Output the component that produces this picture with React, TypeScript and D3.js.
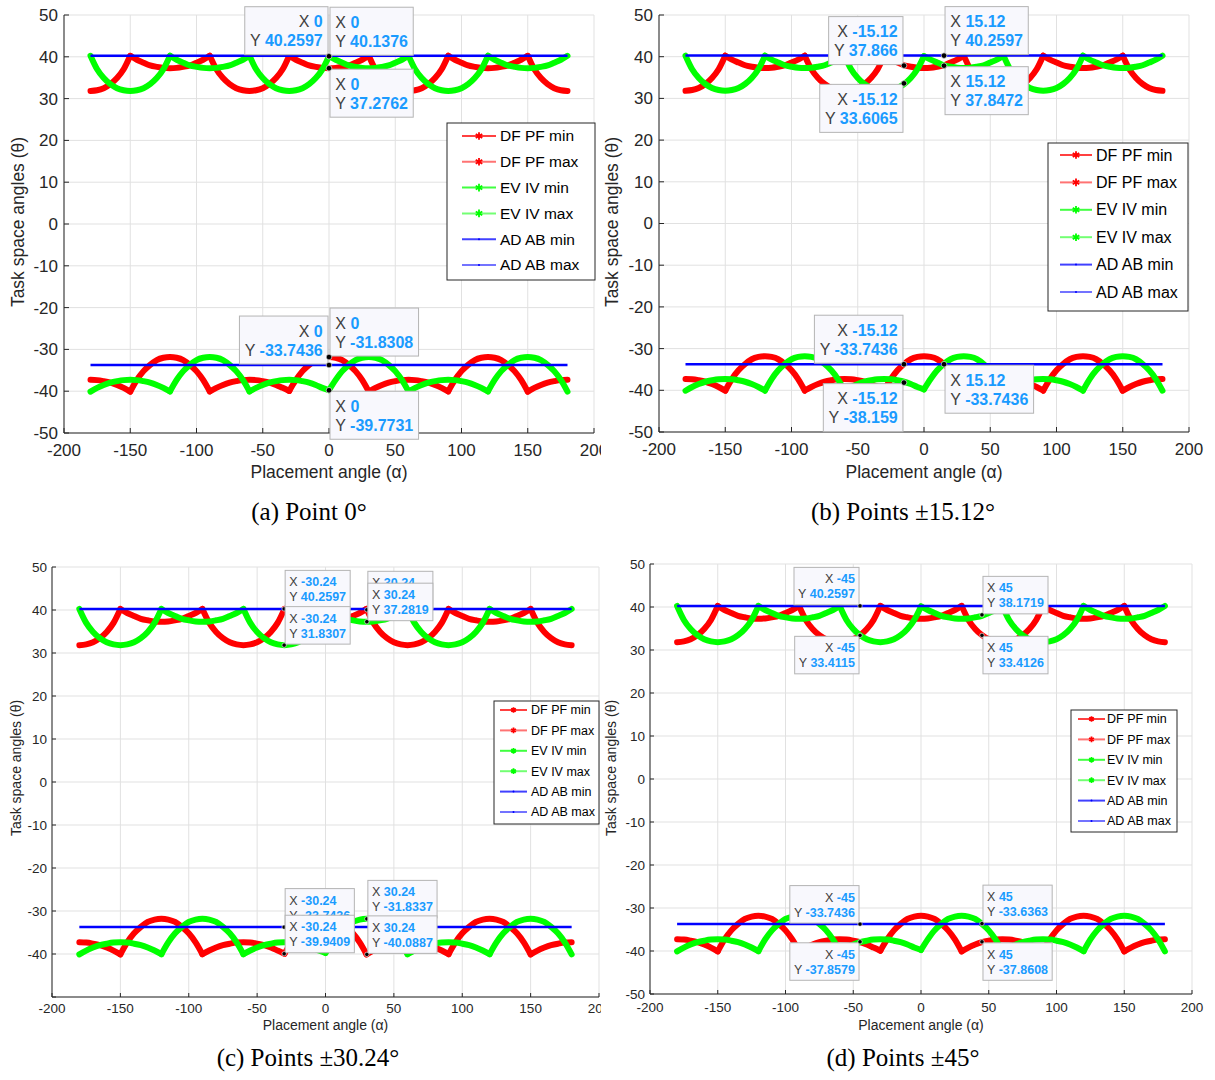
import React, { useEffect, useRef } from "react";
import * as d3 from "d3";

// ---------------- DATA ----------------
const angles = [-180, -175, -170, -165, -160, -155, -150, -145, -140, -135, -130, -125, -120, -115, -110, -105, -100, -95, -90, -85, -80, -75, -70, -65, -60, -55, -50, -45, -40, -35, -30, -25, -20, -15, -10, -5, 0, 5, 10, 15, 20, 25, 30, 35, 40, 45, 50, 55, 60, 65, 70, 75, 80, 85, 90, 95, 100, 105, 110, 115, 120, 125, 130, 135, 140, 145, 150, 155, 160, 165, 170, 175, 180];

const dfpfMax = [
  31.83, 32.0, 32.5, 33.45, 34.9, 37.0, 40.24,
  39.3, 38.6, 37.95, 37.6, 37.35, 37.28, 37.35, 37.6, 37.95, 38.6, 39.3, 40.25,
  37.0, 34.9, 33.45, 32.5, 32.0, 31.83, 32.0, 32.5, 33.45, 34.9, 37.0, 40.26,
  39.3, 38.6, 37.95, 37.6, 37.35, 37.28, 37.35, 37.6, 37.95, 38.6, 39.3, 40.26,
  37.0, 34.9, 33.45, 32.5, 32.0, 31.83, 32.0, 32.5, 33.45, 34.9, 37.0, 40.25,
  39.3, 38.6, 37.95, 37.6, 37.35, 37.28, 37.35, 37.6, 37.95, 38.6, 39.3, 40.24,
  37.0, 34.9, 33.45, 32.5, 32.0, 31.83,
];
const evivMax = [
  40.24,
  37.0, 34.9, 33.45, 32.5, 32.0, 31.83, 32.0, 32.5, 33.45, 34.9, 37.0, 40.25,
  39.3, 38.6, 37.95, 37.6, 37.35, 37.28, 37.35, 37.6, 37.95, 38.6, 39.3, 40.25,
  37.0, 34.9, 33.45, 32.5, 32.0, 31.83, 32.0, 32.5, 33.45, 34.9, 37.0, 40.14,
  39.3, 38.6, 37.95, 37.6, 37.35, 37.28, 37.35, 37.6, 37.95, 38.6, 39.3, 40.25,
  37.0, 34.9, 33.45, 32.5, 32.0, 31.83, 32.0, 32.5, 33.45, 34.9, 37.0, 40.25,
  39.3, 38.6, 37.95, 37.6, 37.35, 37.28, 37.35, 37.6, 37.95, 38.6, 39.3, 40.24,
];
const dfpfMin = [
  -37.28, -37.35, -37.6, -37.95, -38.5, -39.2, -40.1,
  -37.3, -35.2, -33.7, -32.55, -32.0, -31.83, -32.0, -32.55, -33.7, -35.2, -37.3, -40.05,
  -39.2, -38.5, -37.95, -37.6, -37.35, -37.28, -37.35, -37.6, -37.95, -38.5, -39.2, -39.94,
  -37.3, -35.2, -33.7, -32.55, -32.0, -31.83, -32.0, -32.55, -33.7, -35.2, -37.3, -40.09,
  -39.2, -38.5, -37.95, -37.6, -37.35, -37.28, -37.35, -37.6, -37.95, -38.5, -39.2, -40.05,
  -37.3, -35.2, -33.7, -32.55, -32.0, -31.83, -32.0, -32.55, -33.7, -35.2, -37.3, -40.1,
  -39.2, -38.5, -37.95, -37.6, -37.35, -37.28,
];
const evivMin = [
  -40.1,
  -39.2, -38.5, -37.95, -37.6, -37.35, -37.28, -37.35, -37.6, -37.95, -38.5, -39.2, -40.05,
  -37.3, -35.2, -33.7, -32.55, -32.0, -31.83, -32.0, -32.55, -33.7, -35.2, -37.3, -40.05,
  -39.2, -38.5, -37.95, -37.6, -37.35, -37.28, -37.35, -37.6, -37.95, -38.5, -39.2, -39.77,
  -37.3, -35.2, -33.7, -32.55, -32.0, -31.83, -32.0, -32.55, -33.7, -35.2, -37.3, -40.05,
  -39.2, -38.5, -37.95, -37.6, -37.35, -37.28, -37.35, -37.6, -37.95, -38.5, -39.2, -40.05,
  -37.3, -35.2, -33.7, -32.55, -32.0, -31.83, -32.0, -32.55, -33.7, -35.2, -37.3, -40.1,
];
const dfpfCusps = [-150, -90, -30, 30, 90, 150];
const evivCusps = [-180, -120, -60, 0, 60, 120, 180];
const adabX = [-180, 180];
const adabMaxValue = 40.2597;
const adabMinValue = -33.7436;

const xTicks = [-200, -150, -100, -50, 0, 50, 100, 150, 200];
const yTicks = [-50, -40, -30, -20, -10, 0, 10, 20, 30, 40, 50];

const legendLabels = ["DF PF min", "DF PF max", "EV IV min", "EV IV max", "AD AB min", "AD AB max"];
const captions = ["(a) Point 0°", "(b) Points ±15.12°", "(c) Points ±30.24°", "(d) Points ±45°"];
const xAxisTitle = "Placement angle (α)";
const yAxisTitle = "Task space angles (θ)";

const tipsAX = [0, 0, 0, 0, 0, 0];
const tipsAY = [40.2597, 40.1376, 37.2762, -33.7436, -31.8308, -39.7731];
const tipsBX = [-15.12, -15.12, 15.12, 15.12, -15.12, -15.12, 15.12];
const tipsBY = [37.866, 33.6065, 40.2597, 37.8472, -33.7436, -38.159, -33.7436];
const tipsCX = [-30.24, -30.24, 30.24, 30.24, -30.24, -30.24, 30.24, 30.24];
const tipsCY = [40.2597, 31.8307, 40.0463, 37.2819, -33.7436, -39.9409, -31.8337, -40.0887];
const tipsDX = [-45, -45, 45, 45, -45, -45, 45, 45];
const tipsDY = [40.2597, 33.4115, 38.1719, 33.4126, -33.7436, -37.8579, -33.6363, -37.8608];

// ---------------- LAYOUT ----------------
const SANS = "'Liberation Sans', Arial, Helvetica, sans-serif";
const SERIF = "'Liberation Serif', 'Times New Roman', serif";

const panels = [
  {
    x0: 64, x1: 594, y0: 433, y1: 15, clip: [0, 0, 601, 540],
    tickFont: 17, tickLen: 5, xTickBase: 23, yTickGap: 6, hideYMin: false,
    titleFont: 17.5, yTitleX: 18, yTitleY: 222, xTitleY: 478,
    capX: 309, capY: 520,
    legend: { x: 447, y: 123, w: 148, h: 157, row0: 136, dy: 25.8, l0: 462, l1: 496, tx: 500, font: 15.5, ms: 40 },
    tipFont: 16, dotR: 2.8, tipsX: tipsAX, tipsY: tipsAY,
    place: ["tl", "tr", "br", "tl", "tr", "br"],
  },
  {
    x0: 659, x1: 1189, y0: 432, y1: 15, clip: [601, 0, 614, 540],
    tickFont: 17, tickLen: 5, xTickBase: 23, yTickGap: 6, hideYMin: false,
    titleFont: 17.5, yTitleX: 612, yTitleY: 222, xTitleY: 478,
    capX: 903, capY: 520,
    legend: { x: 1048, y: 143, w: 140, h: 168, row0: 155, dy: 27.4, l0: 1060, l1: 1092, tx: 1096, font: 16, ms: 40 },
    tipFont: 16, dotR: 2.8, tipsX: tipsBX, tipsY: tipsBY,
    place: ["tl", "bl", "tr", "br", "tl", "bl", "br"],
  },
  {
    x0: 52, x1: 599, y0: 997, y1: 567, clip: [0, 540, 601, 540],
    tickFont: 13.5, tickLen: 4, xTickBase: 16, yTickGap: 5, hideYMin: true,
    titleFont: 14, yTitleX: 16, yTitleY: 768, xTitleY: 1030,
    capX: 308, capY: 1066,
    legend: { x: 494, y: 701, w: 105, h: 123, row0: 710, dy: 20.4, l0: 500, l1: 527, tx: 531, font: 12.5, ms: 22 },
    tipFont: 12.5, dotR: 2.2, tipsX: tipsCX, tipsY: tipsCY,
    place: ["tr", "tr", "tr", "tr", "tr", "tr", "tr", "tr"],
  },
  {
    x0: 650, x1: 1192, y0: 994, y1: 564, clip: [601, 540, 614, 540],
    tickFont: 13.5, tickLen: 4, xTickBase: 17.5, yTickGap: 5, hideYMin: false,
    titleFont: 14, yTitleX: 611, yTitleY: 768, xTitleY: 1030,
    capX: 903, capY: 1066,
    legend: { x: 1071, y: 710, w: 106, h: 122, row0: 719, dy: 20.4, l0: 1078, l1: 1105, tx: 1107, font: 12.5, ms: 22 },
    tipFont: 12.5, dotR: 2.2, tipsX: tipsDX, tipsY: tipsDY,
    place: ["tl", "bl", "tr", "br", "tl", "bl", "tr", "br"],
  },
];

const RED = "#ff0000";
const GREEN = "#00ff00";
const BLUE = "#0000ff";
const AXIS = "#262626";

function splitSegments(xs: number[], ys: number[], cusps: number[]) {
  const idx = [0];
  xs.forEach((v, i) => { if (cusps.includes(v) && i !== 0 && i !== xs.length - 1) idx.push(i); });
  idx.push(xs.length - 1);
  const segs: [number, number][][] = [];
  for (let k = 0; k < idx.length - 1; k++) {
    const s: [number, number][] = [];
    for (let i = idx[k]; i <= idx[k + 1]; i++) s.push([xs[i], ys[i]]);
    segs.push(s);
  }
  return segs;
}

export default function App() {
  const ref = useRef<SVGSVGElement>(null);

  useEffect(() => {
    const svg = d3.select(ref.current);
    svg.selectAll("*").remove();
    const defs = svg.append("defs");

    panels.forEach((p, pi) => {
      const clipId = "clip" + pi;
      defs.append("clipPath").attr("id", clipId).append("rect")
        .attr("x", p.clip[0]).attr("y", p.clip[1]).attr("width", p.clip[2]).attr("height", p.clip[3]);
      const g = svg.append("g").attr("clip-path", `url(#${clipId})`);
      const x = d3.scaleLinear().domain([-200, 200]).range([p.x0, p.x1]);
      const y = d3.scaleLinear().domain([-50, 50]).range([p.y0, p.y1]);

      // grid
      const grid = g.append("g").attr("stroke", "#e1e1e1").attr("stroke-width", 1);
      xTicks.forEach((t) => {
        grid.append("line").attr("x1", x(t)).attr("x2", x(t)).attr("y1", y(-50)).attr("y2", y(50));
      });
      yTicks.forEach((t) => {
        grid.append("line").attr("x1", x(-200)).attr("x2", x(200)).attr("y1", y(t)).attr("y2", y(t));
      });

      // curves
      const line = d3.line<[number, number]>().x((d) => x(d[0])).y((d) => y(d[1])).curve(d3.curveMonotoneX);
      const drawSeries = (ys: number[], cusps: number[], color: string) => {
        splitSegments(angles, ys, cusps).forEach((seg) => {
          g.append("path").attr("d", line(seg)).attr("fill", "none").attr("stroke", color)
            .attr("stroke-width", 6).attr("stroke-linejoin", "round").attr("stroke-linecap", "round");
        });
      };
      drawSeries(dfpfMin, dfpfCusps, RED);
      drawSeries(dfpfMax, dfpfCusps, RED);
      drawSeries(evivMin, evivCusps, GREEN);
      drawSeries(evivMax, evivCusps, GREEN);
      const flat = d3.line<number>().x((d) => x(d));
      [adabMinValue, adabMaxValue].forEach((v) => {
        g.append("path").attr("d", flat.y(() => y(v))(adabX)).attr("fill", "none")
          .attr("stroke", BLUE).attr("stroke-width", 2.5);
      });

      // axes
      const ax = g.append("g").attr("stroke", AXIS).attr("stroke-width", 1).attr("fill", "none");
      ax.append("line").attr("x1", x(-200)).attr("x2", x(200)).attr("y1", y(-50)).attr("y2", y(-50));
      ax.append("line").attr("x1", x(-200)).attr("x2", x(-200)).attr("y1", y(-50)).attr("y2", y(50));
      xTicks.forEach((t) => {
        ax.append("line").attr("x1", x(t)).attr("x2", x(t)).attr("y1", y(-50)).attr("y2", y(-50) - p.tickLen);
      });
      yTicks.forEach((t) => {
        ax.append("line").attr("x1", x(-200)).attr("x2", x(-200) + p.tickLen).attr("y1", y(t)).attr("y2", y(t));
      });
      xTicks.forEach((t) => {
        g.append("text").attr("x", x(t)).attr("y", y(-50) + p.xTickBase).attr("text-anchor", "middle")
          .attr("font-family", SANS).attr("font-size", p.tickFont).attr("fill", AXIS).text(String(t));
      });
      yTicks.forEach((t) => {
        if (p.hideYMin && t === -50) return;
        g.append("text").attr("x", x(-200) - p.yTickGap).attr("y", y(t)).attr("dy", "0.35em")
          .attr("text-anchor", "end").attr("font-family", SANS).attr("font-size", p.tickFont)
          .attr("fill", AXIS).text(String(t));
      });
      g.append("text").attr("x", (p.x0 + p.x1) / 2).attr("y", p.xTitleY).attr("text-anchor", "middle")
        .attr("font-family", SANS).attr("font-size", p.titleFont).attr("fill", AXIS).text(xAxisTitle);
      g.append("text").attr("transform", `translate(${p.yTitleX},${p.yTitleY}) rotate(-90)`)
        .attr("text-anchor", "middle").attr("dominant-baseline", "central")
        .attr("font-family", SANS).attr("font-size", p.titleFont).attr("fill", AXIS).text(yAxisTitle);

      // datatips
      p.tipsX.forEach((tx, i) => {
        const ty = p.tipsY[i];
        const px = x(tx), py = y(ty);
        const f = p.tipFont;
        const tg = g.append("g");
        const box = tg.append("rect");
        const mk = (lbl: string, val: string) => {
          const t = tg.append("text").attr("font-family", SANS).attr("font-size", f);
          t.append("tspan").attr("fill", "#404040").text(lbl + " ");
          t.append("tspan").attr("fill", "#1a9bff").attr("font-weight", "bold").text(val);
          return t;
        };
        const t1 = mk("X", String(tx));
        const t2 = mk("Y", String(ty));
        const w1 = (t1.node() as SVGTextElement).getComputedTextLength();
        const w2 = (t2.node() as SVGTextElement).getComputedTextLength();
        const pad = f * 0.33;
        const w = Math.max(w1, w2) + 2 * pad;
        const h = f * 3.0;
        const pl = p.place[i];
        const left = pl[1] === "l" ? px - 1 - w : px + 1;
        const top = pl[0] === "t" ? py - 1 - h : py + 1;
        box.attr("x", left).attr("y", top).attr("width", w).attr("height", h)
          .attr("fill", "#f8f8fd").attr("stroke", "#b4b4b4").attr("stroke-width", 1);
        const rightAlign = pl[1] === "l";
        [t1, t2].forEach((t, k) => {
          t.attr("y", top + f * (k === 0 ? 1.28 : 2.48));
          if (rightAlign) t.attr("x", left + w - pad).attr("text-anchor", "end");
          else t.attr("x", left + pad);
        });
        tg.append("circle").attr("cx", px).attr("cy", py).attr("r", p.dotR)
          .attr("fill", "#000").attr("stroke", "#fff").attr("stroke-width", 0.6);
      });

      // legend
      const L = p.legend;
      const lg = g.append("g");
      lg.append("rect").attr("x", L.x).attr("y", L.y).attr("width", L.w).attr("height", L.h)
        .attr("fill", "#fff").attr("stroke", AXIS).attr("stroke-width", 1);
      const lcol = [RED, RED, GREEN, GREEN, BLUE, BLUE];
      legendLabels.forEach((lab, i) => {
        const ry = L.row0 + i * L.dy;
        lg.append("line").attr("x1", L.l0).attr("x2", L.l1).attr("y1", ry).attr("y2", ry)
          .attr("stroke", lcol[i]).attr("stroke-opacity", i % 2 === 0 ? 0.75 : 0.55).attr("stroke-width", 2);
        const mx = (L.l0 + L.l1) / 2;
        if (i < 4) {
          lg.append("path").attr("transform", `translate(${mx},${ry})`)
            .attr("d", d3.symbol(d3.symbolAsterisk, L.ms)())
            .attr("fill", "none").attr("stroke", lcol[i]).attr("stroke-width", 1.8);
        } else {
          lg.append("circle").attr("cx", mx).attr("cy", ry).attr("r", 1).attr("fill", BLUE);
        }
        lg.append("text").attr("x", L.tx).attr("y", ry).attr("dy", "0.35em")
          .attr("font-family", SANS).attr("font-size", L.font).attr("fill", "#000").text(lab);
      });

      // caption
      svg.append("text").attr("x", p.capX).attr("y", p.capY).attr("text-anchor", "middle")
        .attr("font-family", SERIF).attr("font-size", 25).attr("fill", "#000").text(captions[pi]);
    });
  }, []);

  return (
    <div style={{ position: "absolute", left: 0, top: 0 }}>
      <svg ref={ref} width={1215} height={1080} style={{ display: "block", background: "#fff" }} />
    </div>
  );
}
